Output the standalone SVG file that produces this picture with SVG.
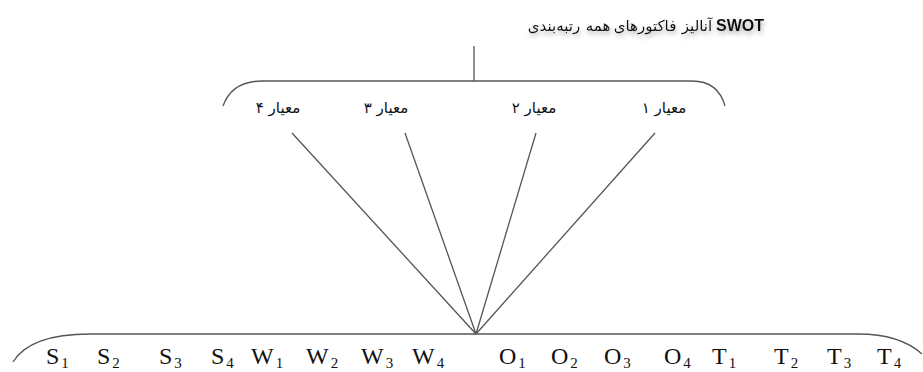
<svg xmlns="http://www.w3.org/2000/svg" width="923" height="372" viewBox="0 0 923 372">
<defs>
<filter id="sh" x="-10%" y="-50%" width="120%" height="220%">
<feDropShadow dx="1" dy="3" stdDeviation="2.5" flood-color="#888" flood-opacity="0.7"/>
</filter>
</defs>
<style>
.ln{fill:none;stroke:#555;stroke-width:1.3}
.fa{font-family:"DejaVu Sans",sans-serif;font-size:15px;fill:#111;text-anchor:middle}
.tt{font-family:"DejaVu Sans",sans-serif;font-size:15px;fill:#111;text-anchor:middle}
.sw{font-family:"Liberation Sans",Arial,sans-serif;font-size:16px;font-weight:bold;fill:#111;text-anchor:middle}
.lb{font-family:"Liberation Serif","Times New Roman",serif;font-size:24px;fill:#111}
.sb{font-size:15px}
</style>
<rect width="923" height="372" fill="#fff"/>
<g id="title" filter="url(#sh)">
<text class="tt" x="554" y="31">رتبه‌بندی</text>
<text class="tt" x="598" y="31">همه</text>
<text class="tt" x="645" y="31">فاکتورهای</text>
<text class="tt" x="697" y="31">آنالیز</text>
<text class="sw" x="740" y="31">SWOT</text>
</g>
<g id="criteria">
<text class="fa" x="278" y="113">معیار ۴</text>
<text class="fa" x="386" y="113">معیار ۳</text>
<text class="fa" x="534" y="113">معیار ۲</text>
<text class="fa" x="664" y="113">معیار ۱</text>
</g>
<g id="factors">
<text class="lb" x="46" y="364">S<tspan class="sb" dx="2" dy="4">1</tspan></text>
<text class="lb" x="97" y="364">S<tspan class="sb" dx="2" dy="4">2</tspan></text>
<text class="lb" x="159" y="364">S<tspan class="sb" dx="2" dy="4">3</tspan></text>
<text class="lb" x="211" y="364">S<tspan class="sb" dx="2" dy="4">4</tspan></text>
<text class="lb" x="251" y="364">W<tspan class="sb" dx="2" dy="4">1</tspan></text>
<text class="lb" x="306" y="364">W<tspan class="sb" dx="2" dy="4">2</tspan></text>
<text class="lb" x="361" y="364">W<tspan class="sb" dx="2" dy="4">3</tspan></text>
<text class="lb" x="412" y="364">W<tspan class="sb" dx="2" dy="4">4</tspan></text>
<text class="lb" x="499" y="364">O<tspan class="sb" dx="2" dy="4">1</tspan></text>
<text class="lb" x="551" y="364">O<tspan class="sb" dx="2" dy="4">2</tspan></text>
<text class="lb" x="604" y="364">O<tspan class="sb" dx="2" dy="4">3</tspan></text>
<text class="lb" x="664" y="364">O<tspan class="sb" dx="2" dy="4">4</tspan></text>
<text class="lb" x="712" y="364">T<tspan class="sb" dx="2" dy="4">1</tspan></text>
<text class="lb" x="774" y="364">T<tspan class="sb" dx="2" dy="4">2</tspan></text>
<text class="lb" x="827" y="364">T<tspan class="sb" dx="2" dy="4">3</tspan></text>
<text class="lb" x="877" y="364">T<tspan class="sb" dx="2" dy="4">4</tspan></text>
</g>
<g id="connectors">
<line class="ln" x1="474" y1="46" x2="474" y2="81"/>
<path class="ln" d="M223,106 Q232,81 262,81 L692,81 Q718,81 725,106"/>
<path class="ln" d="M13,362 Q30,334 90,334 L858,334 Q900,334 922,354"/>
<line class="ln" x1="292" y1="133" x2="476" y2="334"/>
<line class="ln" x1="405" y1="133" x2="476" y2="334"/>
<line class="ln" x1="536" y1="133" x2="476" y2="334"/>
<line class="ln" x1="655" y1="133" x2="476" y2="334"/>
</g>
</svg>
